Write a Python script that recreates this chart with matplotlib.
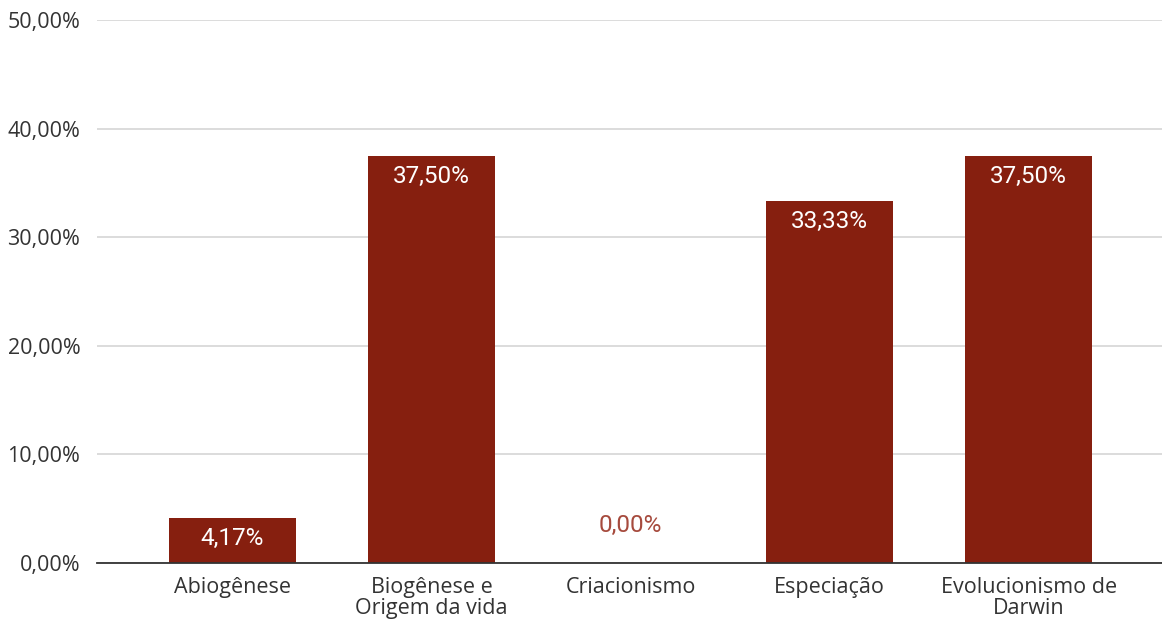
import matplotlib.pyplot as plt
from matplotlib.ticker import FuncFormatter

categories = ["Abiogênese", "Biogênese e\nOrigem da vida", "Criacionismo",
              "Especiação", "Evolucionismo de\nDarwin"]
values = [4.17, 37.50, 0.00, 33.33, 37.50]
y_ticks = [0, 10, 20, 30, 40, 50]

BAR = "#861f0f"


def pct(v):
    return f"{v:.2f}%".replace(".", ",")


plt.rcParams['font.family'] = ['Open Sans', 'DejaVu Sans']

fig = plt.figure(figsize=(11.62, 6.23), dpi=100)
ax = fig.add_axes([97 / 1162, 60 / 623, 1 - 97 / 1162, 543 / 623])

x = list(range(len(categories)))
ax.bar(x, values, width=0.64, color=BAR, zorder=3)

# value labels: white inside the bar, bar-coloured above an empty bar
for xi, v in zip(x, values):
    if v > 0:
        ax.annotate(pct(v), (xi, v), xytext=(0, -15), textcoords="offset points",
                    ha="center", va="center", color="white", fontsize=17.5,
                    family=['Roboto', 'DejaVu Sans'], zorder=4)
    else:
        ax.annotate(pct(v), (xi, v), xytext=(0, 27), textcoords="offset points",
                    ha="center", va="center", color="#a64a3d", fontsize=17.5,
                    family=['Roboto', 'DejaVu Sans'], zorder=4)

ax.set_ylim(0, 50)
ax.set_xlim(-0.5 - 0.18, 4.5 + 0.17)
ax.set_yticks(y_ticks)
ax.yaxis.set_major_formatter(FuncFormatter(lambda v, _: pct(v)))
ax.set_xticks(x)
ax.set_xticklabels(categories, fontsize=15.5, color="#333333", linespacing=1.0)
ax.tick_params(axis="y", labelsize=15.5, colors="#333333", length=0, pad=12)
ax.tick_params(axis="x", length=0, pad=10)

ax.grid(axis="y", color="#d9d9d9", linewidth=1.3, zorder=0)
for side in ["top", "right", "left"]:
    ax.spines[side].set_visible(False)
ax.spines["bottom"].set_color("#333333")
ax.spines["bottom"].set_linewidth(1.3)
ax.spines["bottom"].set_zorder(5)

fig.savefig("out.png", dpi=100)
